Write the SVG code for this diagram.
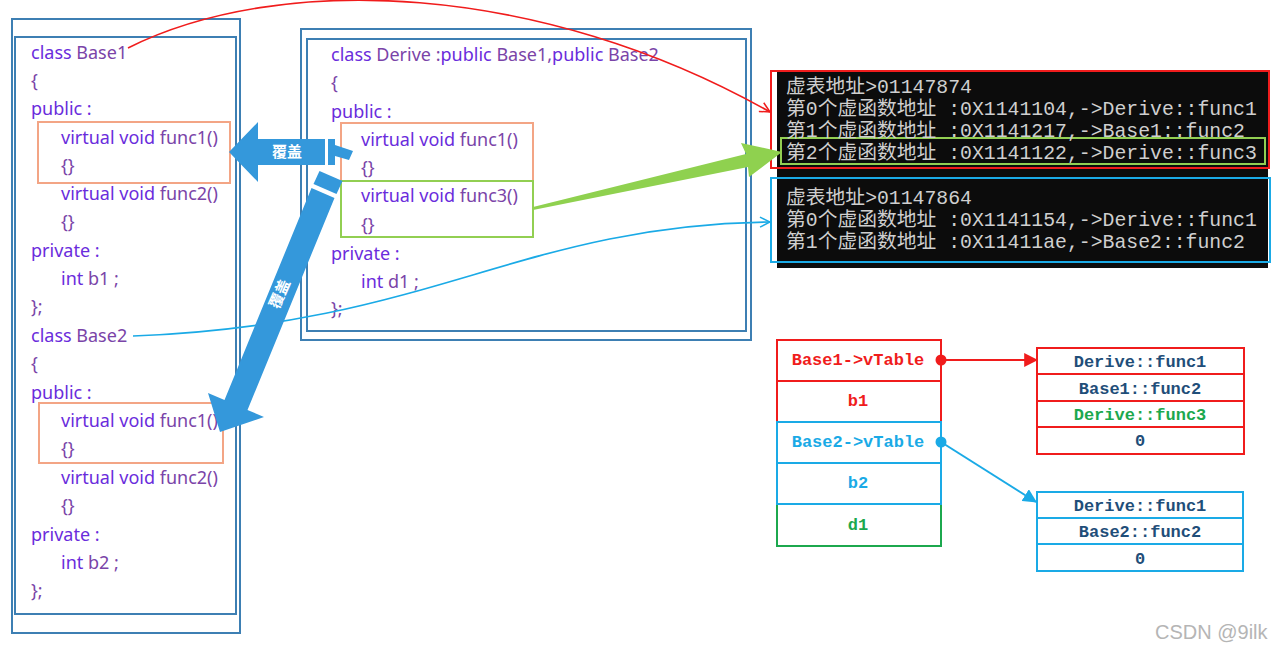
<svg xmlns="http://www.w3.org/2000/svg" width="1287" height="652" viewBox="0 0 1287 652">
<style>
.frame{fill:none;stroke:#3d7fb3;stroke-width:2}
.code{font-family:"Noto Sans","Open Sans",sans-serif;font-size:18px;fill:#7a44a8}
.kw{fill:#6a2cdc}
.orange{fill:none;stroke:#f3a585;stroke-width:2}
.green{fill:none;stroke:#92cf52;stroke-width:2}
.con{font-family:"Liberation Mono","Noto Sans CJK SC",monospace;font-size:19.8px;fill:#cfcfcf}
.tbl{font-family:"Liberation Mono",monospace;font-size:17px;font-weight:bold;text-anchor:middle}
.red{fill:none;stroke:#f01c1c;stroke-width:2}
.blue{fill:none;stroke:#1aaae6;stroke-width:2}
.grn{fill:none;stroke:#1ca84e;stroke-width:2}
.lbl{font-family:"Noto Sans CJK SC",sans-serif;font-size:15px;font-weight:bold;fill:#fff}
</style>
<defs>
<marker id="ar" viewBox="0 0 12 12" refX="11" refY="6" markerWidth="12" markerHeight="12" markerUnits="userSpaceOnUse" orient="auto"><path d="M1,1 L11,6 L1,11" fill="none" stroke="#f01c1c" stroke-width="1.5"/></marker>
<marker id="ab" viewBox="0 0 12 12" refX="11" refY="6" markerWidth="12" markerHeight="12" markerUnits="userSpaceOnUse" orient="auto"><path d="M1,1 L11,6 L1,11" fill="none" stroke="#1aaae6" stroke-width="1.5"/></marker>
<marker id="arf" viewBox="0 0 12 12" refX="11" refY="6" markerWidth="14" markerHeight="14" markerUnits="userSpaceOnUse" orient="auto"><path d="M0,0 L12,6 L0,12 Z" fill="#f01c1c"/></marker>
<marker id="abf" viewBox="0 0 12 12" refX="11" refY="6" markerWidth="14" markerHeight="14" markerUnits="userSpaceOnUse" orient="auto"><path d="M0,0 L12,6 L0,12 Z" fill="#1aaae6"/></marker>
</defs>
<rect width="1287" height="652" fill="#fff"/>

<g id="base-classes">
<rect class="frame" x="12" y="19" width="228" height="614"/>
<rect class="frame" x="15" y="37" width="221" height="577"/>
<rect class="orange" x="38" y="122" width="192" height="61"/>
<rect class="orange" x="39" y="403" width="184" height="60"/>
<g class="code">
<text x="31" y="59"><tspan class="kw">class</tspan> Base1</text>
<text x="31" y="87">{</text>
<text x="31" y="115" class="kw">public :</text>
<text x="61" y="144"><tspan class="kw">virtual void</tspan> func1()</text>
<text x="61" y="172">{}</text>
<text x="61" y="200"><tspan class="kw">virtual void</tspan> func2()</text>
<text x="61" y="228">{}</text>
<text x="31" y="257" class="kw">private :</text>
<text x="61" y="285"><tspan class="kw">int</tspan> b1 ;</text>
<text x="31" y="313">};</text>
<text x="31" y="342"><tspan class="kw">class</tspan> Base2</text>
<text x="31" y="370">{</text>
<text x="31" y="399" class="kw">public :</text>
<text x="61" y="427"><tspan class="kw">virtual void</tspan> func1()</text>
<text x="61" y="455">{}</text>
<text x="61" y="484"><tspan class="kw">virtual void</tspan> func2()</text>
<text x="61" y="512">{}</text>
<text x="31" y="541" class="kw">private :</text>
<text x="61" y="569"><tspan class="kw">int</tspan> b2 ;</text>
<text x="31" y="597">};</text>
</g>
</g>

<g id="derive-class">
<rect class="frame" x="301" y="29" width="450" height="311"/>
<rect class="frame" x="307" y="39" width="439" height="292"/>
<rect class="orange" x="341" y="123" width="192" height="58"/>
<rect class="green" x="341" y="181" width="192" height="56"/>
<g class="code">
<text x="331" y="61"><tspan class="kw">class</tspan> Derive :<tspan class="kw">public</tspan> Base1,<tspan class="kw">public</tspan> Base2</text>
<text x="331" y="89">{</text>
<text x="331" y="118" class="kw">public :</text>
<text x="361" y="146"><tspan class="kw">virtual void</tspan> func1()</text>
<text x="361" y="174">{}</text>
<text x="361" y="202"><tspan class="kw">virtual void</tspan> func3()</text>
<text x="361" y="231">{}</text>
<text x="331" y="260" class="kw">private :</text>
<text x="361" y="288"><tspan class="kw">int</tspan> d1 ;</text>
<text x="331" y="315">};</text>
</g>
</g>

<g id="console">
<rect x="777" y="71" width="491" height="197" fill="#0c0c0c"/>
<rect x="771" y="71" width="498" height="97" fill="none" stroke="#f01c1c" stroke-width="2"/>
<rect x="771" y="178" width="499" height="84" fill="none" stroke="#1aaae6" stroke-width="2"/>
<rect x="781" y="138" width="484" height="26" fill="none" stroke="#92cf52" stroke-width="2"/>
<g class="con">
<text x="786" y="93">虚表地址&gt;01147874</text>
<text x="786" y="115">第0个虚函数地址 :0X1141104,-&gt;Derive::func1</text>
<text x="786" y="137">第1个虚函数地址 :0X1141217,-&gt;Base1::func2</text>
<text x="786" y="159">第2个虚函数地址 :0X1141122,-&gt;Derive::func3</text>
<text x="786" y="204">虚表地址&gt;01147864</text>
<text x="786" y="226">第0个虚函数地址 :0X1141154,-&gt;Derive::func1</text>
<text x="786" y="248">第1个虚函数地址 :0X11411ae,-&gt;Base2::func2</text>
</g>
</g>

<g id="object-layout">
<rect class="red" x="777" y="340" width="164" height="82"/>
<line class="red" x1="777" y1="381" x2="941" y2="381"/>
<rect class="grn" x="777" y="504" width="164" height="42"/>
<rect class="blue" x="777" y="422" width="164" height="82"/>
<line class="blue" x1="777" y1="463" x2="941" y2="463"/>
<text class="tbl" x="858" y="365" fill="#f01c1c">Base1-&gt;vTable</text>
<text class="tbl" x="858" y="406" fill="#f01c1c">b1</text>
<text class="tbl" x="858" y="447" fill="#1aaae6">Base2-&gt;vTable</text>
<text class="tbl" x="858" y="488" fill="#1aaae6">b2</text>
<text class="tbl" x="858" y="530" fill="#1ca84e">d1</text>
</g>

<g id="vtable1">
<rect class="red" x="1037" y="348" width="207" height="106"/>
<line class="red" x1="1037" y1="374" x2="1244" y2="374"/>
<line class="red" x1="1037" y1="401" x2="1244" y2="401"/>
<line class="red" x1="1037" y1="427" x2="1244" y2="427"/>
<text class="tbl" x="1140" y="367" fill="#1f4e79">Derive::func1</text>
<text class="tbl" x="1140" y="394" fill="#1f4e79">Base1::func2</text>
<text class="tbl" x="1140" y="420" fill="#1ca84e">Derive::func3</text>
<text class="tbl" x="1140" y="446" fill="#1f4e79">0</text>
</g>

<g id="vtable2">
<rect class="blue" x="1037" y="492" width="206" height="79"/>
<line class="blue" x1="1037" y1="518" x2="1243" y2="518"/>
<line class="blue" x1="1037" y1="544" x2="1243" y2="544"/>
<text class="tbl" x="1140" y="511" fill="#1f4e79">Derive::func1</text>
<text class="tbl" x="1140" y="537" fill="#1f4e79">Base2::func2</text>
<text class="tbl" x="1140" y="564" fill="#1f4e79">0</text>
</g>

<g id="connectors">
<path d="M128,48 C280,-28 540,-18 770,112" fill="none" stroke="#f01c1c" stroke-width="1.6" marker-end="url(#ar)"/>
<path d="M133,336 C430,325 520,225 770,222" fill="none" stroke="#1aaae6" stroke-width="1.6" marker-end="url(#ab)"/>
<path d="M533,207 L746,154 L741,143 L782,152 L749,177 L748,167 L533,210 Z" fill="#8fd14f"/>
<line x1="941" y1="360" x2="1037" y2="360" stroke="#f01c1c" stroke-width="2" marker-end="url(#arf)"/>
<circle cx="941" cy="360" r="5.5" fill="#f01c1c"/>
<line x1="941" y1="442" x2="1036" y2="502" stroke="#1aaae6" stroke-width="2" marker-end="url(#abf)"/>
<circle cx="941" cy="442" r="5.5" fill="#1aaae6"/>
<g fill="#3498db">
<path d="M229,152 L258,122 L258,139 L325,139 L325,165 L258,165 L258,182 Z"/>
<path d="M328,139 L335,139 L335,145 L353,151 L349,160 L335,156 L335,165 L328,165 Z"/>
<path d="M311.5,188 L334.5,198 L247.5,410 L264,417 L220,432 L208,393 L224.5,400 Z"/>
<path d="M313.5,184 L336.5,194 L342.5,181 L319.5,171 Z"/>
</g>
<text class="lbl" x="287" y="157" text-anchor="middle">覆盖</text>
<text class="lbl" x="0" y="0" text-anchor="middle" font-size="16" transform="translate(280,294) rotate(-66.4) translate(0,5)">覆盖</text>
</g>

<text x="1155" y="639" font-family="Liberation Sans,Arial,sans-serif" font-size="20" fill="#b5b5b5">CSDN @9ilk</text>
</svg>
